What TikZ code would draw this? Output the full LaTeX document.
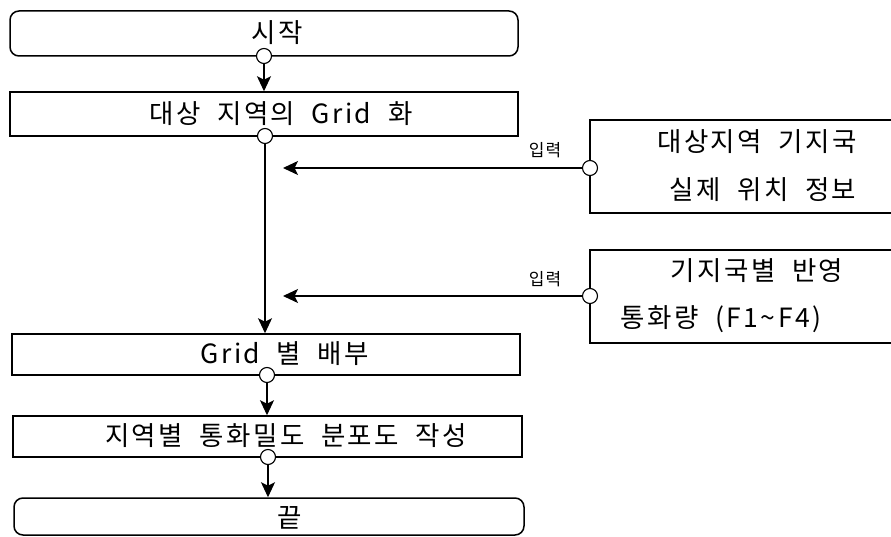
\documentclass[tikz,border=0pt]{standalone}
\usepackage{fontspec}
\setmainfont{Noto Sans CJK KR}
\newfontfamily\krspaced[LetterSpace=9, WordSpace=2]{Noto Sans CJK KR}
\newfontfamily\krlabel[LetterSpace=6]{Noto Sans CJK KR}
\usetikzlibrary{arrows.meta}
\tikzset{
  boxline/.style={draw, line width=1.5pt},
  procbox/.style={boxline, minimum width=#1, inner sep=0pt},
  port/.style={circle, draw, line width=1.1pt, fill=white, minimum size=15pt, inner sep=0pt},
  arr/.style={line width=1.5pt, -{Stealth[length=15pt, width=14pt, inset=3.5pt]}},
  txt/.style={font=\krspaced\fontsize{26.5}{28}\selectfont, inner sep=0pt},
  inlabel/.style={font=\krlabel\fontsize{17}{19}\selectfont, inner sep=0pt}
}
\begin{document}
\begin{tikzpicture}[x=1pt,y=-1pt]
\useasboundingbox (0,0) rectangle (891,537);

% main column boxes
\node[procbox=508pt, minimum height=45pt, rounded corners=9pt] (start) at (264,33.5) {};
\node[procbox=508pt, minimum height=44pt] (b2) at (264,114) {};
\node[procbox=508pt, minimum height=41pt] (b3) at (266,354.5) {};
\node[procbox=509pt, minimum height=41pt] (b4) at (267.5,436.5) {};
\node[procbox=510pt, minimum height=37pt, rounded corners=9pt] (fin) at (269,516.5) {};

% texts
\node[txt] (tstart) at (277,33) {시작};
\node[txt] (tb2) at (281,114) {대상 지역의 Grid 화};
\node[txt] (tb3) at (285,354) {Grid 별 배부};
\node[txt] (tb4) at (286,436) {지역별 통화밀도 분포도 작성};
\node[txt] (tfin) at (290,518) {끝};

% right boxes (open to the right)
\node[minimum width=301pt, minimum height=93pt, inner sep=0pt] (ra) at (740.5,166.5) {};
\node[minimum width=301pt, minimum height=93pt, inner sep=0pt] (rb) at (740.5,296.5) {};
\draw[boxline] (ra.north east) -- (ra.north west) -- (ra.south west) -- (ra.south east);
\draw[boxline] (rb.north east) -- (rb.north west) -- (rb.south west) -- (rb.south east);
\node[txt] (ta1) at (757,142) {대상지역 기지국};
\node[txt] (ta2) at (763,190) {실제 위치 정보};
\node[txt] (tb1) at (757,271) {기지국별 반영};
\node[txt] (tbb) at (721,319) {통화량 (F1\textasciitilde F4)};

% ports
\node[port] (c1) at (264,56) {};
\node[port] (c2) at (265,136) {};
\node[port] (c3) at (267,375) {};
\node[port] (c4) at (268,457) {};
\node[port] (ca) at (590,168) {};
\node[port] (cb) at (590,296) {};

% arrow ends
\coordinate (ea) at (283,168);
\coordinate (eb) at (283,296);

% connectors
\draw[arr] (c1.south) -- (c1.south |- b2.north);
\draw[arr] (c2.south) -- (c2.south |- b3.north);
\draw[arr] (c3.south) -- (c3.south |- b4.north);
\draw[arr] (c4.south) -- (c4.south |- fin.north);
\draw[arr] (ca.west) -- (ea);
\draw[arr] (cb.west) -- (eb);

% labels
\node[inlabel] (la) at (545,150) {입력};
\node[inlabel] (lb) at (545,279) {입력};
\end{tikzpicture}
\end{document}
